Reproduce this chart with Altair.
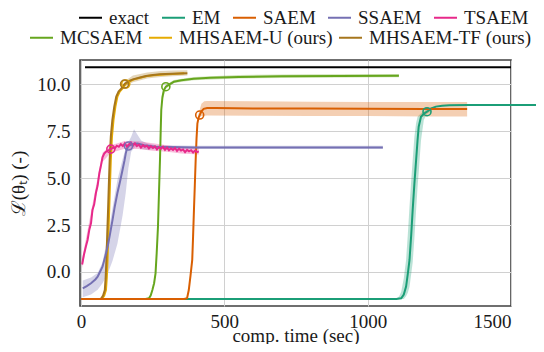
import altair as alt
import pandas as pd

FONT = "Liberation Serif"

SERIES_ROW1 = ["exact", "EM", "SAEM", "SSAEM", "TSAEM"]
COLORS_ROW1 = ["#000000", "#1b9e77", "#d95f02", "#7570b3", "#e7298a"]
SERIES_ROW2 = ["MCSAEM", "MHSAEM-U (ours)", "MHSAEM-TF (ours)"]
COLORS_ROW2 = ["#66a61e", "#e6ab02", "#a6761d"]

X_TICKS = [0, 500, 1000, 1500]
Y_TICKS = [0, 2.5, 5, 7.5, 10]

# ---- mean curves (time in sec, value) ----
exact_t = [14, 1500]
exact_v = [10.9, 10.9]

em_t = [0, 1100, 1117, 1126, 1134, 1140, 1146, 1152, 1157, 1163, 1169, 1174, 1178,
        1186, 1196, 1207, 1222, 1238, 1260, 1285, 1350, 1450, 1500, 1630]
em_v = [-1.44, -1.44, -1.40, -1.20, -0.78, -0.10, 0.64, 2.0, 3.3, 4.7, 5.96, 7.0, 7.73,
        8.26, 8.42, 8.53, 8.70, 8.80, 8.85, 8.87, 8.88, 8.88, 8.88, 8.88]

saem_t = [0, 360, 370, 376, 382, 388, 391, 394, 397, 400, 403, 406, 410, 414, 420, 428,
          440, 470, 600, 800, 1000, 1200, 1347]
saem_v = [-1.44, -1.44, -1.40, -0.96, -0.20, 0.64, 1.9, 3.3, 4.6, 5.96, 7.1, 7.9, 8.2,
          8.35, 8.55, 8.68, 8.72, 8.72, 8.70, 8.70, 8.68, 8.67, 8.67]

ssaem_t = [6, 20, 35, 50, 58, 66, 75, 84, 93, 101, 110, 118, 127, 136, 145, 152, 156,
           160, 165.6, 175, 185, 197, 220, 260, 400, 700, 1053]
ssaem_v = [-0.87, -0.75, -0.60, -0.40, -0.25, 0.0, 0.28, 0.8, 1.35, 2.0, 2.77, 3.5, 4.2,
           4.8, 5.44, 5.95, 6.3, 6.55, 6.7, 6.78, 6.82, 6.84, 6.75, 6.66, 6.63, 6.63, 6.63]

tsaem_t = [4, 10, 17, 23, 29, 35, 40, 46, 52, 58, 64, 70, 75, 81, 87, 93, 99,
           104, 111, 118, 125, 132, 139, 146, 153, 160, 167, 174, 181, 188, 195, 202,
           209, 216, 223, 230, 237, 244, 251, 258, 265, 272, 279, 286, 293, 300, 307,
           314, 321, 328, 335, 342, 349, 356, 363, 370, 377, 384, 391, 398, 405, 411]
tsaem_v = [0.40, 0.90, 1.35, 1.70, 2.25, 2.60, 3.30, 3.60, 4.20, 4.60, 5.26, 5.70, 6.10,
           6.30, 6.40, 6.45, 6.50,
           6.54, 6.62, 6.58, 6.72, 6.66, 6.80, 6.70, 6.85, 6.68, 6.78, 6.90, 6.72, 6.84,
           6.70, 6.78, 6.62, 6.75, 6.66, 6.72, 6.58, 6.70, 6.60, 6.68, 6.52, 6.64, 6.56,
           6.66, 6.50, 6.62, 6.48, 6.58, 6.50, 6.60, 6.44, 6.56, 6.46, 6.52, 6.38, 6.50,
           6.42, 6.48, 6.36, 6.46, 6.38, 6.42]

mcsaem_t = [0, 225, 237, 243, 249, 255, 260, 264, 268.5, 272, 275.5, 278, 280, 284, 289,
            296, 310, 324, 350, 393, 450, 550, 700, 900, 1109]
mcsaem_v = [-1.44, -1.44, -1.40, -1.25, -0.96, -0.60, -0.07, 1.0, 2.41, 4.2, 5.96, 7.5,
            8.62, 9.3, 9.68, 9.86, 10.0, 10.12, 10.2, 10.28, 10.33, 10.38, 10.41, 10.43, 10.44]

mhu_t = [0, 70, 75, 81, 87, 90, 92.6, 95.5, 98.4, 101, 104, 108, 113.4, 120, 127, 135,
         145, 156, 170, 185, 210, 231, 255, 278, 320, 360]
mhu_v = [-1.44, -1.44, -1.40, -1.25, -0.96, -0.30, 0.64, 2.0, 3.3, 4.6, 5.96, 7.2, 8.09,
         8.8, 9.33, 9.6, 9.77, 10.0, 10.15, 10.25, 10.35, 10.43, 10.47, 10.5, 10.54, 10.57]

mhtf_t = [0, 66, 71, 77, 83, 86, 88.6, 91.5, 94.4, 97, 100, 104, 109.4, 116, 123, 131,
          141, 152, 166, 181, 206, 227, 251, 274, 316, 371]
mhtf_v = [-1.44, -1.44, -1.40, -1.25, -0.96, -0.30, 0.64, 2.0, 3.3, 4.6, 5.96, 7.2, 8.09,
          8.8, 9.33, 9.6, 9.77, 10.0, 10.15, 10.25, 10.35, 10.43, 10.48, 10.52, 10.55, 10.57]

# ---- uncertainty bands ----
em_band_t = [1090, 1100, 1110, 1117, 1126, 1134, 1140, 1146, 1152, 1157, 1163, 1169, 1174,
             1178, 1186, 1196, 1207, 1222]
em_band_lo = [-1.44, -1.44, -1.44, -1.44, -1.44, -1.29, -1.10, -0.78, -0.10, 0.5, 1.8, 3.3,
              4.5, 5.3, 7.0, 8.1, 8.4, 8.55]
em_band_hi = [-1.44, -1.42, -1.29, -1.05, -0.33, 0.64, 2.0, 3.5, 4.9, 5.96, 7.2, 7.93, 8.26,
              8.33, 8.44, 8.54, 8.67, 8.78]

saem_band_t = [410, 420, 430, 440, 600, 800, 1000, 1200, 1347]
saem_band_lo = [8.20, 8.30, 8.32, 8.33, 8.32, 8.30, 8.30, 8.28, 8.28]
saem_band_hi = [8.40, 8.95, 9.08, 9.10, 9.08, 9.06, 9.05, 9.05, 9.05]

ssaem_band_t = [6, 35, 58, 75, 93, 110, 127, 145, 156, 165, 175, 185, 197, 210, 230, 260,
                400, 700, 1053]
ssaem_band_lo = [-1.35, -1.20, -0.95, -0.60, -0.10, 0.6, 1.5, 3.0, 4.2, 5.5, 6.4, 6.6, 6.7,
                 6.55, 6.5, 6.55, 6.55, 6.55, 6.55]
ssaem_band_hi = [-0.45, -0.30, -0.05, 0.5, 1.9, 3.4, 4.9, 6.0, 6.6, 6.9, 7.2, 7.6, 7.3, 7.0,
                 6.85, 6.75, 6.72, 6.72, 6.72]

tsaem_band_t = [4, 40, 75, 104, 150, 200, 250, 300, 350, 411]
tsaem_band_lo = [0.20, 3.00, 5.85, 6.35, 6.55, 6.55, 6.45, 6.40, 6.30, 6.25]
tsaem_band_hi = [0.70, 3.60, 6.35, 6.75, 6.95, 6.95, 6.85, 6.75, 6.65, 6.60]

mcsaem_band_t = [284, 296, 324, 393, 550, 800, 1109]
mcsaem_band_lo = [9.10, 9.75, 10.05, 10.20, 10.30, 10.34, 10.36]
mcsaem_band_hi = [9.50, 9.95, 10.22, 10.38, 10.48, 10.52, 10.53]

mhtf_band_t = [152, 181, 231, 278, 320, 371]
mhtf_band_lo = [9.85, 10.10, 10.30, 10.38, 10.42, 10.45]
mhtf_band_hi = [10.15, 10.45, 10.62, 10.70, 10.72, 10.73]

# ---- circle markers ----
marker_series = ["EM", "SAEM", "SSAEM", "TSAEM", "MCSAEM", "MHSAEM-U (ours)", "MHSAEM-TF (ours)"]
marker_t = [1207, 414, 165.6, 104, 296, 156, 152]
marker_v = [8.53, 8.35, 6.70, 6.54, 9.86, 10.0, 10.0]

# ---------------- build tables ----------------
def line_rows(name, ts, vs):
    return [{"series": name, "t": t, "v": v, "i": k} for k, (t, v) in enumerate(zip(ts, vs))]

def band_rows(name, ts, lo, hi):
    return [{"series": name, "t": t, "lo": a, "hi": b} for t, a, b in zip(ts, lo, hi)]

lines1 = pd.DataFrame(
    line_rows("exact", exact_t, exact_v) + line_rows("EM", em_t, em_v)
    + line_rows("SAEM", saem_t, saem_v) + line_rows("SSAEM", ssaem_t, ssaem_v)
    + line_rows("TSAEM", tsaem_t, tsaem_v))
lines2 = pd.DataFrame(
    line_rows("MCSAEM", mcsaem_t, mcsaem_v) + line_rows("MHSAEM-U (ours)", mhu_t, mhu_v)
    + line_rows("MHSAEM-TF (ours)", mhtf_t, mhtf_v))
bands = pd.DataFrame(
    band_rows("EM", em_band_t, em_band_lo, em_band_hi)
    + band_rows("SAEM", saem_band_t, saem_band_lo, saem_band_hi)
    + band_rows("SSAEM", ssaem_band_t, ssaem_band_lo, ssaem_band_hi)
    + band_rows("TSAEM", tsaem_band_t, tsaem_band_lo, tsaem_band_hi)
    + band_rows("MCSAEM", mcsaem_band_t, mcsaem_band_lo, mcsaem_band_hi)
    + band_rows("MHSAEM-TF (ours)", mhtf_band_t, mhtf_band_lo, mhtf_band_hi))
markers = pd.DataFrame({"series": marker_series, "t": marker_t, "v": marker_v})

ALL_SERIES = SERIES_ROW1 + SERIES_ROW2
ALL_COLORS = COLORS_ROW1 + COLORS_ROW2

x_scale = alt.Scale(domain=[-3.5, 1500], nice=False, zero=False)
y_scale = alt.Scale(domain=[-1.81, 11.28], nice=False, zero=False)
x_axis = alt.Axis(values=X_TICKS, format="d", title="comp. time (sec)",
                  labelFont=FONT, titleFont=FONT, labelFontSize=19, titleFontSize=19,
                  labelBaseline="alphabetic", labelPadding=21,
                  titleBaseline="alphabetic", titleY=35)
y_axis = alt.Axis(values=Y_TICKS, format=".1f", title="ℒ(θₜ) (-)",
                  labelFont=FONT, titleFont=FONT, labelFontSize=19, titleFontSize=19,
                  labelPadding=10, titleX=-52)

band_layer = alt.Chart(bands).mark_area(opacity=0.3, clip=False).encode(
    x=alt.X("t:Q", scale=x_scale, axis=x_axis),
    y=alt.Y("lo:Q", scale=y_scale, axis=y_axis),
    y2="hi:Q",
    color=alt.Color("series:N", scale=alt.Scale(domain=ALL_SERIES, range=ALL_COLORS), legend=None),
)

def legend(x, y, n, gap):
    return alt.Legend(orient="none", legendX=x, legendY=y, direction="horizontal",
                      columns=n, title=None, labelFont=FONT, labelFontSize=19,
                      labelOffset=6, columnPadding=gap)

line2_layer = alt.Chart(lines2).mark_line(strokeWidth=2, clip=False).encode(
    x=alt.X("t:Q", scale=x_scale, axis=x_axis),
    y=alt.Y("v:Q", scale=y_scale, axis=y_axis),
    order="i:Q",
    color=alt.Color("series:N", scale=alt.Scale(domain=SERIES_ROW2, range=COLORS_ROW2),
                    legend=legend(-51, -35, 3, 2)),
)

line1_layer = alt.Chart(lines1).mark_line(strokeWidth=2, clip=False).encode(
    x=alt.X("t:Q", scale=x_scale, axis=x_axis),
    y=alt.Y("v:Q", scale=y_scale, axis=y_axis),
    order="i:Q",
    color=alt.Color("series:N", scale=alt.Scale(domain=SERIES_ROW1, range=COLORS_ROW1),
                    legend=legend(-2, -55, 5, 8)),
)

marker_layer = alt.Chart(markers).mark_point(filled=False, size=64, strokeWidth=1.6,
                                             opacity=1).encode(
    x=alt.X("t:Q", scale=x_scale, axis=x_axis),
    y=alt.Y("v:Q", scale=y_scale, axis=y_axis),
    color=alt.Color("series:N", scale=alt.Scale(domain=ALL_SERIES, range=ALL_COLORS), legend=None),
)

chart = alt.layer(band_layer, line2_layer, line1_layer, marker_layer).resolve_scale(
    color="independent"
).properties(
    width=431, height=246,
    autosize=alt.AutoSizeParams(type="none"),
    padding={"left": 72, "top": 52, "right": 25, "bottom": 38},
).configure(
    font=FONT
).configure_view(
    stroke="#404040", strokeWidth=1.6
).configure_axis(
    domain=False, ticks=False, tickSize=0, grid=True, gridColor="#d0d0d0", gridWidth=1,
    labelFont=FONT, labelFontSize=19, labelColor="#1a1a1a",
    titleFont=FONT, titleFontSize=19, titleFontWeight="normal", titleColor="#1a1a1a",
).configure_legend(
    labelFont=FONT, labelFontSize=19, labelColor="#1a1a1a", labelLimit=0,
    symbolType="stroke", symbolSize=529, symbolStrokeWidth=2,
    padding=0, symbolOpacity=1,
)

chart.save("out.html", embed_options={"renderer": "svg", "actions": False})
